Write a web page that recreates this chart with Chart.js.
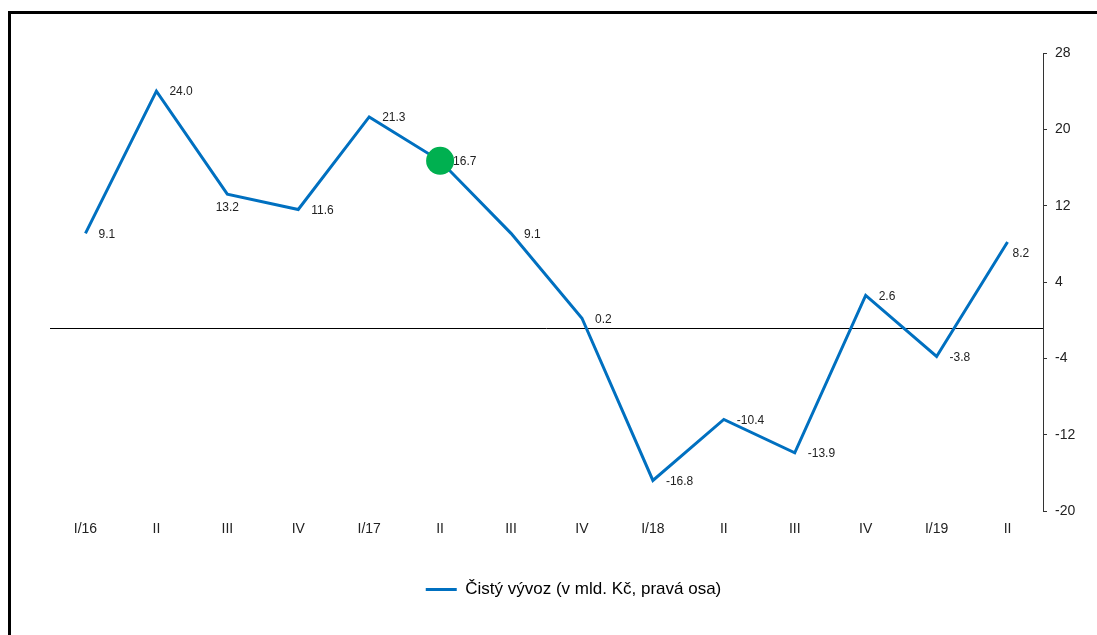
<!DOCTYPE html>
<html lang="cs">
  <head>
    <meta charset="UTF-8" />
    <title>Čistý vývoz</title>
    <style>
      html, body { margin: 0; padding: 0; background: #fff; overflow: hidden; }
      #wrap { position: relative; width: 1097px; height: 635px; }
      #frame {
        position: absolute; left: 8px; top: 11px; width: 2000px; height: 2000px;
        border-top: 3px solid #000; border-left: 3px solid #000; pointer-events: none;
      }
    </style>
  </head>
  <body>
    <div id="wrap">
      <div id="frame"></div>
      <canvas id="chart" width="1097" height="635"></canvas>
    </div>

    <script src="https://cdn.jsdelivr.net/npm/chart.js@4.4.1/dist/chart.umd.min.js"></script>
    <script>
      // data
      const quarters = ["I/16", "II", "III", "IV", "I/17", "II", "III", "IV", "I/18", "II", "III", "IV", "I/19", "II"];
      const netExport = [9.1, 24.0, 13.2, 11.6, 21.3, 16.7, 9.1, 0.2, -16.8, -10.4, -13.9, 2.6, -3.8, 8.2];
      const yTicks = [-20, -12, -4, 4, 12, 20, 28];
      const seriesLabel = "Čistý vývoz (v mld. Kč, pravá osa)";
      const highlightIndex = 5;
      const baseLineValue = -0.8;
      // where to put each value label: right / below / belowRight
      const labelPlace = ["right", "right", "below", "right", "right", "right", "right", "right", "right", "right", "right", "right", "right", "belowRight"];

      const blue = "#0070C0";
      const green = "#00B050";
      const font = "'Liberation Sans', Arial, sans-serif";

      // horizontal reference line across the plot
      const baseLinePlugin = {
        id: "baseLine",
        beforeDatasetsDraw(chart) {
          const { ctx, chartArea, scales } = chart;
          const y = Math.round(scales.y.getPixelForValue(baseLineValue)) + 0.5;
          ctx.save();
          ctx.strokeStyle = "#000";
          ctx.lineWidth = 1;
          ctx.beginPath();
          ctx.moveTo(chartArea.left, y);
          ctx.lineTo(chartArea.right, y);
          ctx.stroke();
          ctx.restore();
        },
      };

      // value labels next to the points
      const valueLabels = {
        id: "valueLabels",
        afterDatasetsDraw(chart) {
          const { ctx } = chart;
          const pts = chart.getDatasetMeta(0).data;
          ctx.save();
          ctx.font = "12px " + font;
          ctx.fillStyle = "#222";
          pts.forEach((p, i) => {
            const txt = netExport[i].toFixed(1);
            const place = labelPlace[i];
            if (place === "below") {
              ctx.textAlign = "center";
              ctx.textBaseline = "middle";
              ctx.fillText(txt, p.x, p.y + 13);
            } else if (place === "belowRight") {
              ctx.textAlign = "left";
              ctx.textBaseline = "middle";
              ctx.fillText(txt, p.x + 5, p.y + 12);
            } else {
              ctx.textAlign = "left";
              ctx.textBaseline = "middle";
              ctx.fillText(txt, p.x + 13, p.y + 1);
            }
          });
          ctx.restore();
        },
      };

      const chart = new Chart(document.getElementById("chart"), {
        type: "line",
        data: {
          labels: quarters,
          datasets: [
            {
              label: seriesLabel,
              data: netExport,
              borderColor: blue,
              backgroundColor: blue,
              borderWidth: 3,
              tension: 0,
              pointRadius: netExport.map((v, i) => (i === highlightIndex ? 14 : 0)),
              pointBackgroundColor: green,
              pointBorderWidth: 0,
              pointHoverRadius: 0,
            },
          ],
        },
        options: {
          responsive: false,
          animation: false,
          events: [],
          layout: { padding: { left: 50, top: 53, right: 0, bottom: 27 } },
          scales: {
            x: {
              offset: true,
              grid: { display: false, drawTicks: false },
              border: { display: false },
              ticks: { padding: 10, color: "#222", font: { family: font, size: 14 }, maxRotation: 0, autoSkip: false },
              afterFit(s) { s.height = 60; },
            },
            y: {
              position: "right",
              min: -20,
              max: 28,
              afterBuildTicks(s) { s.ticks = yTicks.map((v) => ({ value: v })); },
              grid: { drawOnChartArea: false, drawTicks: true, tickLength: 4, color: "#333" },
              border: { display: true, color: "#333", width: 1 },
              ticks: { padding: 8, color: "#222", font: { family: font, size: 14 } },
              afterFit(s) { s.width = 54; },
            },
          },
          plugins: {
            tooltip: { enabled: false },
            legend: {
              position: "bottom",
              labels: {
                color: "#222",
                font: { family: font, size: 17 },
                boxWidth: 31,
                boxHeight: 3,
                generateLabels: () => [
                  { text: seriesLabel, fillStyle: blue, strokeStyle: blue, lineWidth: 0, datasetIndex: 0 },
                ],
              },
            },
          },
        },
        plugins: [baseLinePlugin, valueLabels],
      });
    </script>
  </body>
</html>
